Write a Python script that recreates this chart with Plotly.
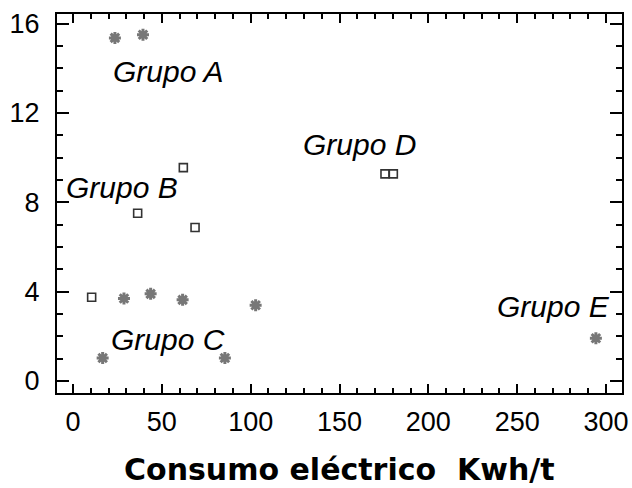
import plotly.graph_objects as go

# Data
star_x = [23.6, 39.4, 16.7, 28.7, 43.7, 61.7, 85.5, 102.8, 294.3]
star_y = [15.36, 15.5, 1.03, 3.69, 3.9, 3.63, 1.03, 3.39, 1.91]

square_x = [10.5, 62.1, 36.4, 68.7, 175.6, 180.3]
square_y = [3.75, 9.55, 7.51, 6.87, 9.27, 9.27]

group_labels = ["Grupo A", "Grupo B", "Grupo C", "Grupo D", "Grupo E"]
label_x = [53.5, 27.3, 53.2, 161.0, 270.7]
label_y = [13.84, 8.64, 1.84, 10.57, 3.33]

x_title = "Consumo eléctrico  Kwh/t"

fig = go.Figure()
fig.add_trace(go.Scatter(
    x=star_x, y=star_y, mode="markers",
    marker=dict(symbol="asterisk-open", size=10, color="#777777",
                line=dict(color="#777777", width=3)),
    showlegend=False, hoverinfo="skip"))
fig.add_trace(go.Scatter(
    x=square_x, y=square_y, mode="markers",
    marker=dict(symbol="square-open", size=8, color="#333333",
                line=dict(color="#333333", width=1.6)),
    showlegend=False, hoverinfo="skip"))

for t, xx, yy in zip(group_labels, label_x, label_y):
    fig.add_annotation(x=xx, y=yy, text=f"<i>{t}</i>", showarrow=False,
                       font=dict(family="Liberation Sans, Arial", size=30, color="black"),
                       xanchor="center", yanchor="middle")

# x-axis title placed below the tick labels
fig.add_annotation(x=0.5, y=-0.203, xref="paper", yref="paper",
                   text=f"<b>{x_title}</b>", showarrow=False,
                   font=dict(family="DejaVu Sans", size=30, color="black"),
                   xanchor="center", yanchor="middle")

axis_common = dict(showline=True, linecolor="black", linewidth=2, mirror="ticks",
                   ticks="inside", tickcolor="black", tickwidth=1.5,
                   showgrid=False, zeroline=False, automargin=False,
                   tickfont=dict(family="Liberation Sans, Arial", size=27, color="black"))

fig.update_xaxes(range=[-9, 309], tickmode="linear", tick0=0, dtick=50, ticklen=9,
                 minor=dict(ticks="inside", dtick=10, ticklen=5, tickcolor="black", tickwidth=1.5),
                 ticklabelstandoff=4,
                 **axis_common)
fig.update_yaxes(range=[-0.54, 16.43], tickmode="linear", tick0=0, dtick=4, ticklen=12,
                 minor=dict(ticks="inside", dtick=1, ticklen=6, tickcolor="black", tickwidth=1.5),
                 ticklabelstandoff=10,
                 **axis_common)

fig.update_layout(width=632, height=488, margin=dict(l=57, r=10, t=14, b=95),
                  plot_bgcolor="white", paper_bgcolor="white")

fig.write_html("out.html", config={"displayModeBar": False},
               post_script="document.body.style.margin='0';document.body.style.overflow='hidden';")
